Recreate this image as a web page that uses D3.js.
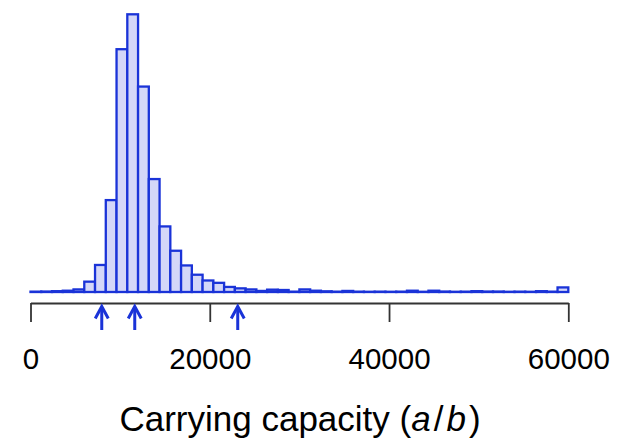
<!DOCTYPE html>
<html>
<head>
<meta charset="utf-8">
<script src="https://cdn.jsdelivr.net/npm/d3@7"></script>
<style>
  html, body { margin: 0; padding: 0; background: #ffffff; }
  svg { display: block; }
</style>
</head>
<body>
<svg id="chart" width="623" height="440"></svg>
<script>
// ---- data ----
const binWidth = 1200;
const binStarts = d3.range(0, 60000, 1200);
const counts = [3, 4, 7, 11, 22, 88, 230, 782, 2066, 2363,
                1748, 961, 558, 351, 226, 147, 98, 78, 43, 31,
                22, 9, 20, 17, 3, 22, 11, 6, 3, 9,
                3, 2, 3, 2, 3, 11, 2, 11, 4, 2,
                3, 7, 4, 4, 2, 3, 2, 7, 3, 39];
const arrowValues = [7950, 11630, 23120];
const tickValues = [0, 20000, 40000, 60000];

// ---- chart ----
const svg = d3.select("#chart");
const blue = "#1a33d8";
const fill = "#d4d7f8";

const x = d3.scaleLinear().domain([0, 60000]).range([30.5, 568.3]);
const y = d3.scaleLinear().domain([0, 2363]).range([292, 14.3]);

const bins = binStarts.map((s, i) => ({ x0: s, x1: s + binWidth, n: counts[i] }));

svg.append("g").selectAll("rect").data(bins).join("rect")
  .attr("x", d => x(d.x0))
  .attr("width", d => x(d.x1) - x(d.x0))
  .attr("y", d => y(d.n))
  .attr("height", d => y(0) - y(d.n))
  .attr("fill", fill)
  .attr("stroke", blue)
  .attr("stroke-width", 2.3);

// axis
const axis = d3.axisBottom(x)
  .tickValues(tickValues)
  .tickFormat(d3.format("d"))
  .tickSize(19)
  .tickSizeOuter(0)
  .tickPadding(8);

const gAxis = svg.append("g")
  .attr("transform", "translate(0,303)")
  .call(axis);
gAxis.select(".domain").attr("stroke", "#333").attr("stroke-width", 1.8);
gAxis.selectAll(".tick line").attr("stroke", "#333").attr("stroke-width", 1.8);
gAxis.selectAll(".tick text")
  .attr("fill", "#000")
  .attr("font-family", "Liberation Sans, Arial, sans-serif")
  .attr("font-size", 29.5)
  .attr("y", 0)
  .attr("dy", 0)
  .attr("transform", "translate(0,65.5)");

// arrows
const gArr = svg.append("g")
  .attr("stroke", blue).attr("stroke-width", 3).attr("fill", "none")
  .attr("stroke-linecap", "butt");
arrowValues.forEach(v => {
  const cx = x(v);
  gArr.append("line").attr("x1", cx).attr("x2", cx).attr("y1", 330).attr("y2", 307);
  gArr.append("polyline").attr("points", `${cx-6.5},318.5 ${cx},306.5 ${cx+6.5},318.5`);
});

// title
const t = svg.append("text")
  .attr("x", 300).attr("y", 431)
  .attr("text-anchor", "middle")
  .attr("font-family", "Liberation Sans, Arial, sans-serif")
  .attr("font-size", 35)
  .attr("fill", "#000");
t.append("tspan").text("Carrying capacity (");
t.append("tspan").attr("font-style", "italic").text("a");
t.append("tspan").attr("dx", 3).text("/");
t.append("tspan").attr("dx", 3).attr("font-style", "italic").text("b");
t.append("tspan").attr("dx", 3).text(")");
</script>
</body>
</html>
